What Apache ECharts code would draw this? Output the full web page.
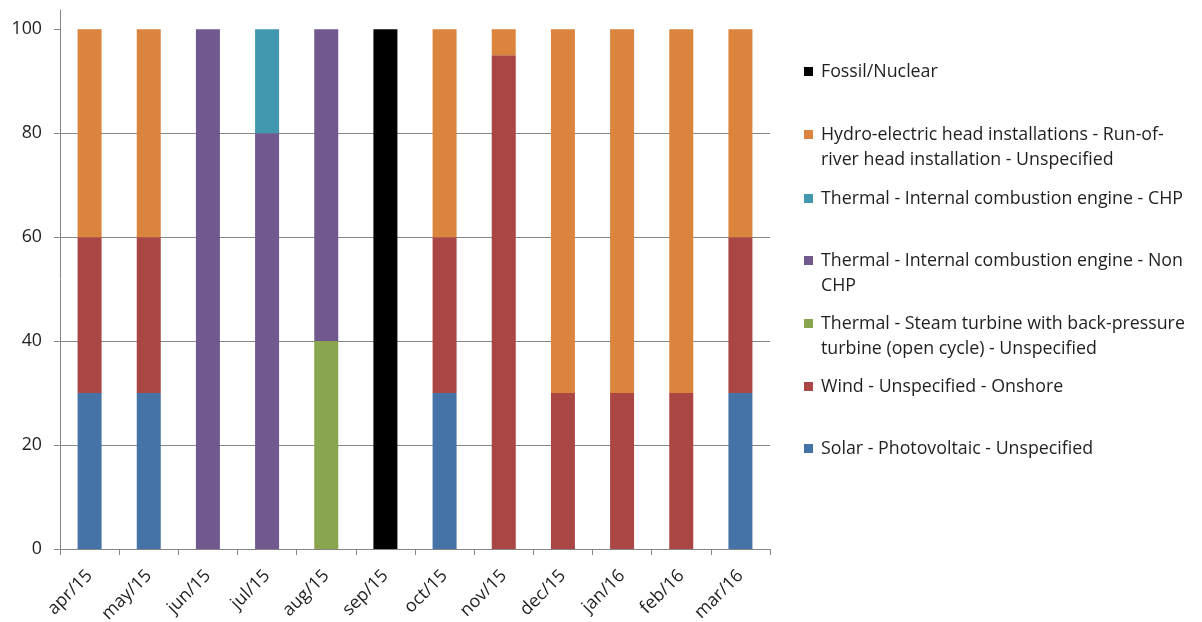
<!DOCTYPE html>
<html><head><meta charset="utf-8">
<script src="https://cdn.jsdelivr.net/npm/echarts@6/dist/echarts.min.js"></script>
<style>html,body{margin:0;padding:0;background:#fff}#c{width:1202px;height:622px}</style>
</head><body><div id="c"></div>
<script>
const categories = ['apr/15','may/15','jun/15','jul/15','aug/15','sep/15','oct/15','nov/15','dec/15','jan/16','feb/16','mar/16'];
const solar  = [30,30,0,0,0,0,30,0,0,0,0,30];
const wind   = [30,30,0,0,0,0,30,95,30,30,30,30];
const steam  = [0,0,0,0,40,0,0,0,0,0,0,0];
const nonChp = [0,0,100,80,60,0,0,0,0,0,0,0];
const chp    = [0,0,0,20,0,0,0,0,0,0,0,0];
const hydro  = [40,40,0,0,0,0,40,5,70,70,70,40];
const fossil = [0,0,0,0,0,100,0,0,0,0,0,0];
const yTicks = [0,20,40,60,80,100];

const seriesDefs = [
  {name:'Solar - Photovoltaic - Unspecified', data:solar, color:'#4572A7', label:'Solar - Photovoltaic - Unspecified'},
  {name:'Wind - Unspecified - Onshore', data:wind, color:'#AA4643', label:'Wind - Unspecified - Onshore'},
  {name:'Thermal - Steam turbine with back-pressure turbine (open cycle) - Unspecified', data:steam, color:'#89A54E', label:'Thermal - Steam turbine with back-pressure\nturbine (open cycle) - Unspecified'},
  {name:'Thermal - Internal combustion engine - Non CHP', data:nonChp, color:'#71588F', label:'Thermal - Internal combustion engine - Non\nCHP'},
  {name:'Thermal - Internal combustion engine - CHP', data:chp, color:'#4198AF', label:'Thermal - Internal combustion engine - CHP'},
  {name:'Hydro-electric head installations - Run-of-river head installation - Unspecified', data:hydro, color:'#DB843D', label:'Hydro-electric head installations - Run-of-\nriver head installation - Unspecified'},
  {name:'Fossil/Nuclear', data:fossil, color:'#000000', label:'Fossil/Nuclear'}
];
const legendRows = [448.5,386.5,323.5,260.5,198.5,134.5,71.5];

const font = '"Open Sans", "Noto Sans", sans-serif';
const fs = 17.8;
const legends = seriesDefs.map((s,i)=>{
  const twoLine = s.label.indexOf('\n')>=0;
  // a leading blank line keeps the first text line level with the marker
  return {
    orient:'vertical', left:804, top: legendRows[i] - (twoLine ? 37.5 : 12.5),
    padding:0,
    itemWidth:9, itemHeight:9, icon:'rect',
    data:[s.name],
    formatter: ()=> twoLine ? ' \n' + s.label : s.label,
    textStyle:{fontFamily:font, fontSize:fs, color:'#1f1f1f', lineHeight:25, padding:[0,0,0,3]},
    selectedMode:false
  };
});

const chart = echarts.init(document.getElementById('c'), null, {renderer:'canvas'});
chart.setOption({
  animation:false,
  backgroundColor:'#fff',
  grid:{left:60, right:432, top:10, bottom:73, containLabel:false, outerBoundsMode:'none'},
  legend: legends,
  xAxis:{
    type:'category', data:categories,
    axisLine:{lineStyle:{color:'#868686', width:1}},
    axisTick:{show:true, length:6, alignWithLabel:false, lineStyle:{color:'#868686'}},
    axisLabel:{interval:0, rotate:45, margin:24, fontFamily:font, fontSize:fs, color:'#1f1f1f'}
  },
  yAxis:{
    type:'value', min:0, max:103.7, interval:20,
    axisLine:{show:true, lineStyle:{color:'#868686', width:1}},
    axisTick:{show:true, length:6, lineStyle:{color:'#868686'}, customValues:yTicks},
    axisLabel:{fontFamily:font, fontSize:fs, color:'#1f1f1f', margin:18, customValues:yTicks},
    splitLine:{show:true, showMaxLine:false, lineStyle:{color:'#868686', width:1}}
  },
  series: seriesDefs.map(s=>({
    name:s.name, type:'bar', stack:'total', data:s.data, barWidth:24,
    itemStyle:{color:s.color}
  }))
});
</script></body></html>
